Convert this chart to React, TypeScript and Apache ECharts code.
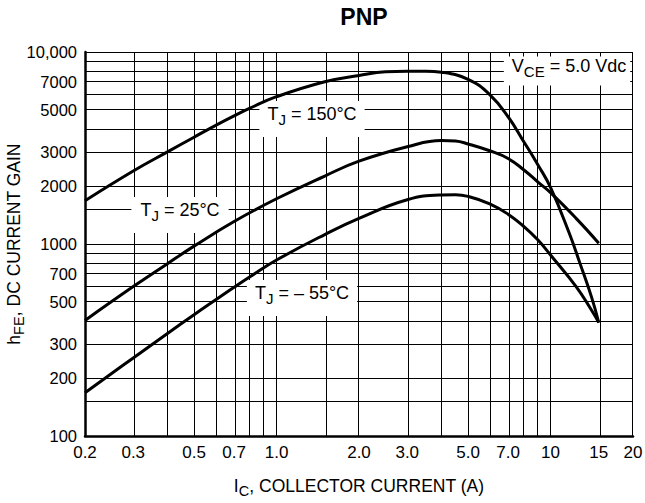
import React, { useEffect, useRef } from 'react';
import * as echarts from 'echarts';

const FONT = '"Liberation Sans", Arial, Helvetica, sans-serif';

const xTickLabels = ['0.2', '0.3', '0.5', '0.7', '1.0', '2.0', '3.0', '5.0', '7.0', '10', '15', '20'];
const yTickLabels = ['100', '200', '300', '500', '700', '1000', '2000', '3000', '5000', '7000', '10,000'];
const xGridValues = [0.3, 0.4, 0.5, 0.6, 0.7, 0.8, 0.9, 1, 1.5, 2, 3, 4, 5, 6, 7, 8, 9, 10, 15, 20];
const yGridValues = [150, 200, 300, 400, 500, 600, 700, 800, 900, 1000, 1500, 2000, 3000, 4000, 5000, 6000, 7000, 8000, 9000, 10000];

const current150 = [0.2, 0.3, 0.4, 0.5, 0.6, 0.7, 0.8, 1.0, 1.5, 2.0, 2.5, 3.0, 3.5, 4.0, 5.0, 6.0, 7.0, 8.0, 9.0, 10, 11.7, 12.8, 14.1, 15];
const gain150 = [1680, 2400, 3020, 3600, 4150, 4650, 5100, 5850, 7000, 7550, 7900, 7950, 7950, 7850, 7200, 6000, 4600, 3400, 2580, 1970, 1140, 795, 532, 390];

const current25 = [0.2, 0.3, 0.4, 0.5, 0.7, 1.0, 1.5, 2.0, 3.0, 4.0, 4.5, 5.0, 6.0, 7.0, 8.0, 9.0, 10, 12.4, 15];
const gain25 = [400, 600, 790, 975, 1310, 1720, 2260, 2700, 3210, 3460, 3440, 3320, 3060, 2790, 2430, 2100, 1850, 1360, 1010];

const currentM55 = [0.2, 0.3, 0.4, 0.5, 0.6, 0.7, 0.8, 1.0, 1.5, 2.0, 3.0, 4.0, 4.5, 5.0, 6.0, 7.0, 8.0, 9.0, 10, 12.4, 14.1, 15];
const gainM55 = [168, 255, 342, 428, 512, 595, 675, 825, 1120, 1360, 1700, 1800, 1805, 1770, 1620, 1430, 1231, 1048, 877, 600, 453, 390];

const lg = (v: number) => Math.log10(v);
const num = (s: string) => Number(s.replace(/,/g, ''));

function labelFor(list: string[], v: number) {
  for (const s of list) {
    if (Math.abs(lg(num(s)) - v) < 1e-6) return s;
  }
  return '';
}

const nameRich = {
  n: { fontSize: 17.5, lineHeight: 20, verticalAlign: 'top', fontFamily: FONT, color: '#000' },
  s: { fontSize: 14.5, lineHeight: 28, fontFamily: FONT, color: '#000' },
};

const annotRich = {
  n: { fontSize: 18, lineHeight: 21, verticalAlign: 'top', fontFamily: FONT, color: '#000' },
  s: { fontSize: 15, lineHeight: 29, fontFamily: FONT, color: '#000' },
};

function annot(text: string, x: number, y: number, pad: number[]) {
  return {
    type: 'text',
    x,
    y,
    z: 3,
    silent: true,
    style: {
      text,
      rich: annotRich,
      align: 'center',
      verticalAlign: 'middle',
      textAlign: 'center',
      textVerticalAlign: 'middle',
      backgroundColor: '#fff',
      padding: pad,
      fill: '#000',
      font: `18px ${FONT}`,
    },
  };
}

export default function App() {
  const ref = useRef<HTMLDivElement>(null);

  useEffect(() => {
    if (!ref.current) return;
    const chart = echarts.init(ref.current, null, { renderer: 'svg' });

    const mk = (xs: number[], ys: number[]) => xs.map((x, i) => [lg(x), lg(ys[i])]);

    const curveStyle = { color: '#000', width: 3 };

    const option = {
      animation: false,
      backgroundColor: '#fff',
      title: {
        text: 'PNP',
        left: 359,
        top: 0,
        textAlign: 'center',
        textStyle: { fontFamily: FONT, fontSize: 23, fontWeight: 'bold', color: '#000' },
      },
      grid: { left: 85, right: 12, top: 52, bottom: 67, containLabel: false, outerBoundsMode: 'none' },
      xAxis: {
        type: 'value',
        min: lg(0.2),
        max: lg(20),
        name: '{n|I}{s|C}{n|, COLLECTOR CURRENT (A)}',
        nameLocation: 'middle',
        nameGap: 41,
        nameMoveOverlap: false,
        nameTextStyle: { fontFamily: FONT, fontSize: 17.5, color: '#000', rich: nameRich },
        axisLine: { show: true, onZero: false, lineStyle: { color: '#000', width: 2.5 } },
        axisTick: { show: false },
        splitLine: { show: false },
        axisLabel: {
          customValues: xTickLabels.map((s) => lg(num(s))),
          formatter: (v: number) => labelFor(xTickLabels, v),
          fontFamily: FONT,
          fontSize: 17,
          color: '#000',
          margin: 8,
        },
      },
      yAxis: {
        type: 'value',
        min: lg(100),
        max: lg(10000),
        name: '{n|h}{s|FE}{n|, DC CURRENT GAIN}',
        nameLocation: 'middle',
        nameGap: 52,
        nameMoveOverlap: false,
        nameTextStyle: { fontFamily: FONT, fontSize: 17.5, color: '#000', rich: nameRich },
        axisLine: { show: true, onZero: false, lineStyle: { color: '#000', width: 2.5 } },
        axisTick: { show: false },
        splitLine: { show: false },
        axisLabel: {
          customValues: yTickLabels.map((s) => lg(num(s))),
          formatter: (v: number) => labelFor(yTickLabels, v),
          fontFamily: FONT,
          fontSize: 16.5,
          color: '#000',
          margin: 8,
        },
      },
      series: [
        {
          name: 'grid',
          type: 'line',
          data: [],
          z: 1,
          silent: true,
          markLine: {
            silent: true,
            z: 1,
            symbol: ['none', 'none'],
            label: { show: false },
            lineStyle: { color: '#000', width: 1, type: 'solid' },
            emphasis: { disabled: true },
            data: [
              ...xGridValues.map((v) => ({ xAxis: lg(v) })),
              ...yGridValues.map((v) => ({ yAxis: lg(v) })),
            ],
          },
        },
        {
          name: 'TJ = 150°C',
          type: 'line',
          data: mk(current150, gain150),
          smooth: 0.45,
          symbol: 'none',
          lineStyle: curveStyle,
          z: 5,
        },
        {
          name: 'TJ = 25°C',
          type: 'line',
          data: mk(current25, gain25),
          smooth: 0.45,
          symbol: 'none',
          lineStyle: curveStyle,
          z: 5,
        },
        {
          name: 'TJ = -55°C',
          type: 'line',
          data: mk(currentM55, gainM55),
          smooth: 0.45,
          symbol: 'none',
          lineStyle: curveStyle,
          z: 5,
        },
      ],
      graphic: [
        annot('{n|T}{s|J}{n| = 150°C}', 312, 119, [4, 8, 3, 8]),
        annot('{n|T}{s|J}{n| = 25°C}', 180, 215, [4, 9, 3, 9]),
        annot('{n|T}{s|J}{n| = – 55°C}', 302, 298, [4, 8, 3, 8]),
        annot('{n|V}{s|CE}{n| = 5.0 Vdc}', 567, 71, [0, 4, 0, 8]),
      ],
    };

    chart.setOption(option as any);
    return () => chart.dispose();
  }, []);

  return (
    <div
      ref={ref}
      style={{ position: 'fixed', left: 0, top: 0, width: 645, height: 503, background: '#fff' }}
    />
  );
}
